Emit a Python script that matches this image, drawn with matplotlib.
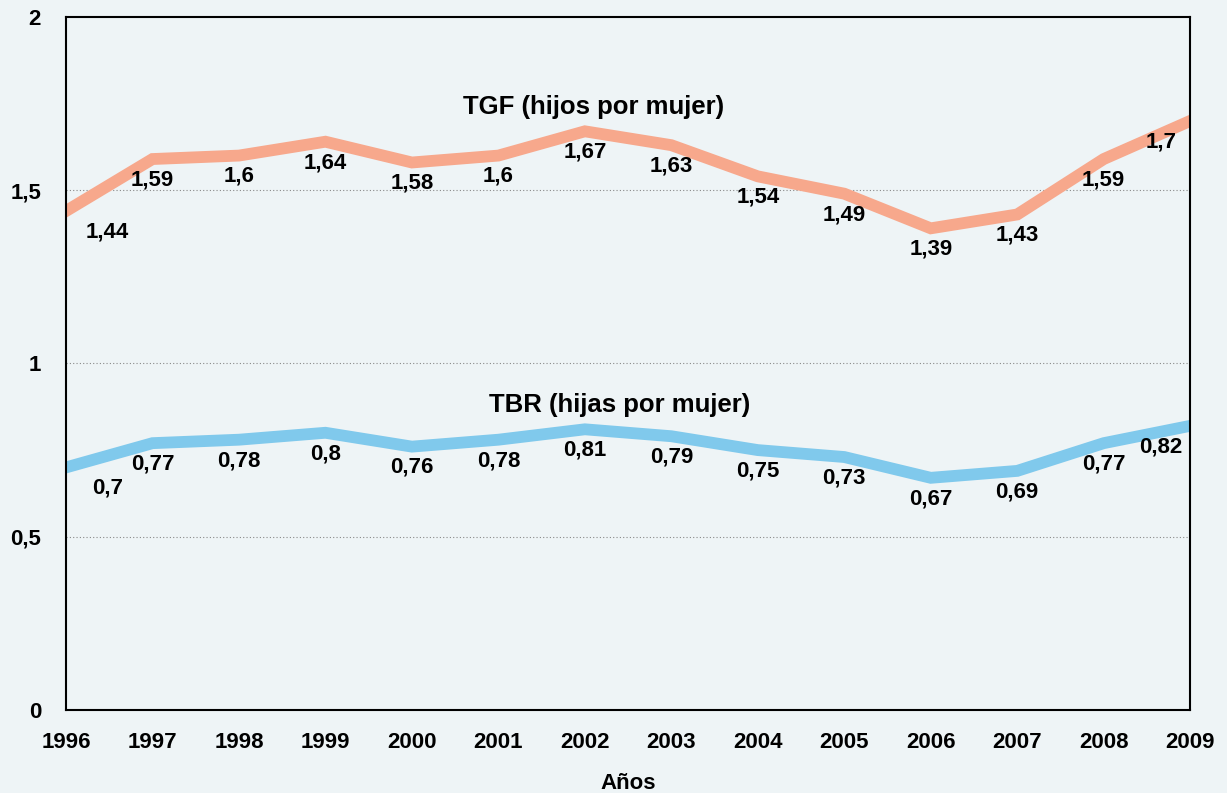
import numpy as np
import matplotlib
matplotlib.use('Agg')
import matplotlib.pyplot as plt

plt.rcParams['font.family'] = ['Liberation Sans', 'DejaVu Sans']
plt.rcParams['font.weight'] = 'bold'

########################################################################################
# DATA
########################################################################################

years = [1996, 1997, 1998, 1999, 2000, 2001, 2002, 2003, 2004, 2005, 2006, 2007, 2008, 2009]
tgf = [1.44, 1.59, 1.6, 1.64, 1.58, 1.6, 1.67, 1.63, 1.54, 1.49, 1.39, 1.43, 1.59, 1.7]
tbr = [0.7, 0.77, 0.78, 0.8, 0.76, 0.78, 0.81, 0.79, 0.75, 0.73, 0.67, 0.69, 0.77, 0.82]
y_ticks = [0, 0.5, 1, 1.5, 2]
y_ticklabels = ['0', '0,5', '1', '1,5', '2']

bg = '#eef4f6'
c_tgf = '#f7a88c'
c_tbr = '#80c9ec'

########################################################################################
# PLOT
########################################################################################

fig = plt.figure(figsize=(12.27, 7.93), dpi=100, facecolor=bg)
ax = fig.add_axes([0.0538, 0.1047, 0.9162, 0.8739])
ax.set_facecolor(bg)

ax.plot(years, tgf, color=c_tgf, linewidth=8.5, solid_joinstyle='miter')
ax.plot(years, tbr, color=c_tbr, linewidth=8.5, solid_joinstyle='miter')


def fmt(v):
    return ('%g' % v).replace('.', ',')


for series in (tgf, tbr):
    for i, (x, v) in enumerate(zip(years, series)):
        dx = 0
        if i == 0:
            dx = 30
        elif i == len(years) - 1:
            dx = -21
        ax.annotate(fmt(v), (x, v), xytext=(dx, -15), textcoords='offset points',
                    ha='center', va='center', fontsize=16, fontweight='bold')

ax.text(2002.1, 1.74, 'TGF (hijos por mujer)', ha='center', va='center',
        fontsize=18.5, fontweight='bold')
ax.text(2002.4, 0.88, 'TBR (hijas por mujer)', ha='center', va='center',
        fontsize=18.5, fontweight='bold')

ax.set_xlim(1996, 2009)
ax.set_ylim(0, 2)
ax.set_xticks(years)
ax.set_xticklabels([str(y) for y in years], fontsize=16, fontweight='bold')
ax.set_yticks(y_ticks)
ax.set_yticklabels(y_ticklabels, fontsize=16, fontweight='bold')
ax.tick_params(axis='both', length=0)
ax.tick_params(axis='y', pad=18)
ax.tick_params(axis='x', pad=16)

for y in [0.5, 1, 1.5]:
    ax.axhline(y, color='#888888', linestyle=(0, (1, 2)), linewidth=0.8, zorder=0)

for s in ax.spines.values():
    s.set_linewidth(1.5)
    s.set_color('black')

ax.set_xlabel('Años', fontsize=16, fontweight='bold', labelpad=14)

fig.savefig('out.png', dpi=100, facecolor=bg)
